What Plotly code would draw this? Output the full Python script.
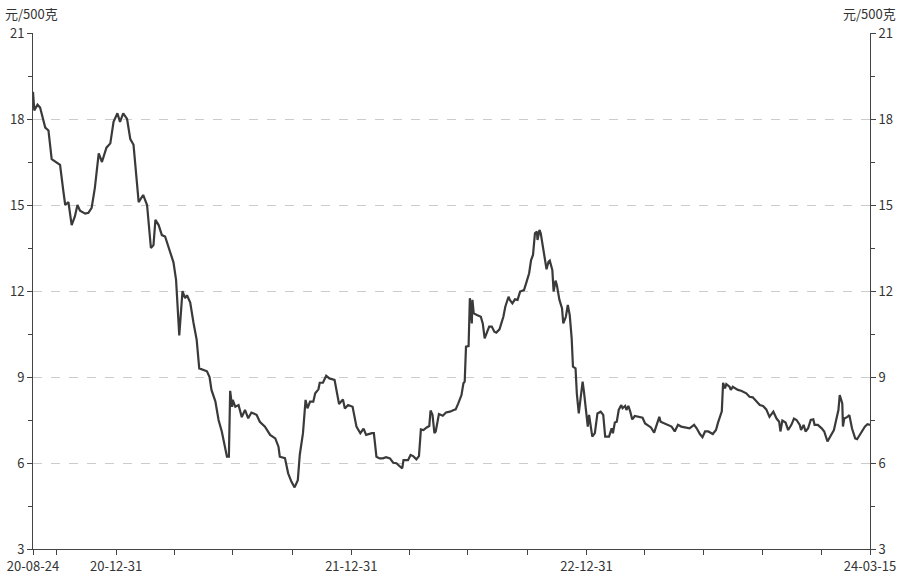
import plotly.graph_objects as go

dates = [
"2020-08-24","2020-08-26","2020-08-31","2020-09-04","2020-09-12","2020-09-17","2020-09-22","2020-09-29",
"2020-10-05","2020-10-10","2020-10-13","2020-10-18","2020-10-23","2020-10-28","2020-11-01","2020-11-05",
"2020-11-13","2020-11-18","2020-11-23","2020-11-28","2020-12-04","2020-12-09","2020-12-16","2020-12-22",
"2020-12-27","2021-01-02","2021-01-06","2021-01-11","2021-01-17","2021-01-22","2021-01-27","2021-02-04",
"2021-02-11","2021-02-17","2021-02-23","2021-02-27","2021-03-02","2021-03-07","2021-03-12","2021-03-17",
"2021-03-30","2021-04-03","2021-04-08","2021-04-13","2021-04-17","2021-04-20","2021-04-25","2021-04-30",
"2021-05-05","2021-05-09","2021-05-21","2021-05-25","2021-05-28","2021-06-03","2021-06-08","2021-06-13",
"2021-06-18","2021-06-21","2021-06-24","2021-06-26","2021-06-29","2021-06-30","2021-07-04","2021-07-09",
"2021-07-14","2021-07-19","2021-07-24","2021-07-29","2021-08-06","2021-08-11","2021-08-19","2021-08-27",
"2021-09-04","2021-09-09","2021-09-11","2021-09-19","2021-09-24","2021-09-29","2021-10-04","2021-10-09",
"2021-10-12","2021-10-17","2021-10-21","2021-10-24","2021-10-28","2021-11-02","2021-11-05","2021-11-10",
"2021-11-12","2021-11-17","2021-11-22","2021-11-27","2021-12-05","2021-12-09","2021-12-12","2021-12-18",
"2021-12-21","2021-12-26","2022-01-02","2022-01-08","2022-01-14","2022-01-19","2022-01-23","2022-02-01",
"2022-02-04","2022-02-08","2022-02-13","2022-02-18","2022-02-23","2022-03-01","2022-03-06","2022-03-11",
"2022-03-16","2022-03-20","2022-03-22","2022-03-29","2022-04-02","2022-04-06","2022-04-11","2022-04-15",
"2022-04-18","2022-04-22","2022-04-27","2022-05-01","2022-05-03","2022-05-06","2022-05-09","2022-05-11",
"2022-05-16","2022-05-22","2022-05-27","2022-06-02","2022-06-08","2022-06-11","2022-06-15","2022-06-20",
"2022-06-23","2022-06-25","2022-06-27","2022-07-01","2022-07-03","2022-07-06","2022-07-07","2022-07-09",
"2022-07-14","2022-07-20","2022-07-23","2022-07-26","2022-07-30","2022-08-02","2022-08-06","2022-08-10",
"2022-08-13","2022-08-18","2022-08-20","2022-08-24","2022-08-27","2022-09-01","2022-09-03","2022-09-07",
"2022-09-11","2022-09-15","2022-09-19","2022-09-25","2022-09-29","2022-10-03","2022-10-06","2022-10-09",
"2022-10-12","2022-10-15","2022-10-16","2022-10-19","2022-10-21","2022-10-25","2022-10-27","2022-10-30",
"2022-11-02","2022-11-04","2022-11-08","2022-11-10","2022-11-13","2022-11-15","2022-11-19","2022-11-23",
"2022-11-25","2022-11-29","2022-12-02","2022-12-05","2022-12-08","2022-12-10","2022-12-14","2022-12-16",
"2022-12-19","2022-12-22","2022-12-25","2022-12-27","2022-12-30","2023-01-02","2023-01-04","2023-01-07",
"2023-01-09","2023-01-13","2023-01-17","2023-01-22","2023-01-26","2023-01-29","2023-02-04","2023-02-08",
"2023-02-10","2023-02-13","2023-02-16","2023-02-19","2023-02-23","2023-02-25","2023-03-01","2023-03-03",
"2023-03-06","2023-03-09","2023-03-12","2023-03-16","2023-03-21","2023-03-28","2023-04-01","2023-04-05",
"2023-04-10","2023-04-15","2023-04-19","2023-04-23","2023-04-25","2023-05-02","2023-05-07","2023-05-12",
"2023-05-17","2023-05-22","2023-05-27","2023-06-03","2023-06-09","2023-06-16","2023-06-20","2023-06-25",
"2023-06-29","2023-07-03","2023-07-08","2023-07-15","2023-07-20","2023-07-23","2023-07-26","2023-07-29",
"2023-07-31","2023-08-03","2023-08-05","2023-08-10","2023-08-12","2023-08-15","2023-08-23","2023-08-28",
"2023-09-05","2023-09-10","2023-09-15","2023-09-21","2023-09-26","2023-10-01","2023-10-06","2023-10-11",
"2023-10-17","2023-10-22","2023-10-26","2023-10-28","2023-10-31","2023-11-05","2023-11-09","2023-11-14",
"2023-11-18","2023-11-22","2023-11-27","2023-11-29","2023-12-03","2023-12-06","2023-12-10","2023-12-14",
"2023-12-18","2023-12-20","2023-12-25","2023-12-31","2024-01-04","2024-01-09","2024-01-14","2024-01-19",
"2024-01-23","2024-01-26","2024-01-28","2024-02-01","2024-02-02","2024-02-04","2024-02-09","2024-02-12",
"2024-02-16","2024-02-21","2024-02-24","2024-02-28","2024-03-03","2024-03-07","2024-03-11","2024-03-15",
]

prices = [
18.95,18.3,18.5,18.4,17.7,17.6,16.6,16.5,
16.4,15.5,15.0,15.1,14.3,14.6,15.0,14.8,
14.7,14.73,14.9,15.6,16.8,16.5,17.0,17.15,
17.9,18.2,17.9,18.2,18.0,17.3,17.1,15.1,
15.35,15.0,13.5,13.6,14.48,14.3,13.95,13.9,
13.0,12.4,10.45,12.0,11.75,11.85,11.6,10.9,
10.3,9.3,9.2,9.0,8.55,8.15,7.5,7.1,
6.57,6.22,6.22,8.52,7.96,8.2,7.96,8.02,
7.6,7.85,7.56,7.76,7.68,7.44,7.27,6.98,
6.86,6.57,6.22,6.17,5.64,5.35,5.15,5.4,
6.28,7.04,8.2,7.91,8.14,8.14,8.43,8.57,
8.8,8.8,9.04,8.95,8.9,8.43,8.06,8.22,
7.9,8.02,7.96,7.27,7.04,7.2,6.98,7.04,
7.04,6.22,6.16,6.16,6.2,6.16,6.01,5.99,
5.87,5.81,6.1,6.1,6.28,6.24,6.13,6.24,
7.17,7.15,7.24,7.29,7.83,7.68,7.04,7.1,
7.71,7.65,7.76,7.79,7.85,7.87,8.08,8.37,
8.78,8.84,10.06,10.08,11.75,10.87,11.69,11.22,
11.16,11.1,10.87,10.35,10.58,10.76,10.76,10.58,
10.55,10.66,10.81,11.1,11.45,11.8,11.69,11.57,
11.71,11.69,11.98,12.03,12.32,12.62,13.08,13.26,
14.01,14.07,13.78,14.13,14.01,13.49,13.2,12.76,
13.02,13.06,12.73,11.98,12.36,12.21,11.69,11.4,
10.87,11.1,11.51,11.16,10.35,9.36,9.3,8.43,
7.73,8.2,8.84,8.5,7.9,7.27,7.68,7.27,
6.92,7.04,7.73,7.79,7.68,6.92,6.92,7.21,
7.04,7.41,7.44,7.85,8.02,7.91,7.99,7.85,
7.99,7.79,7.52,7.64,7.61,7.58,7.38,7.33,
7.24,7.06,7.33,7.61,7.44,7.38,7.33,7.27,
7.1,7.33,7.27,7.24,7.21,7.33,7.21,7.01,
6.9,7.1,7.1,7.01,7.15,7.4,7.65,7.8,
8.8,8.6,8.75,8.66,8.55,8.66,8.55,8.52,
8.43,8.31,8.29,8.14,8.02,7.99,7.87,7.61,
7.79,7.55,7.44,7.1,7.48,7.41,7.15,7.33,
7.55,7.5,7.33,7.15,7.33,7.1,7.21,7.5,
7.52,7.33,7.33,7.21,7.1,6.75,6.98,7.15,
7.55,7.85,8.37,8.08,7.27,7.55,7.61,7.67,
7.21,6.86,6.83,6.98,7.15,7.27,7.35,7.33,
]

x_tick_dates = ["2020-08-24","2020-09-30","2020-12-31","2021-03-31","2021-06-30","2021-09-30",
                "2021-12-31","2022-03-31","2022-06-30","2022-09-30","2022-12-31","2023-03-31",
                "2023-06-30","2023-09-30","2023-12-31","2024-03-15"]
x_tick_labels = ["20-08-24","","20-12-31","","","","21-12-31","","","","22-12-31","","","","","24-03-15"]
y_ticks = [3, 6, 9, 12, 15, 18, 21]
y_minor = [4.5, 7.5, 10.5, 13.5, 16.5, 19.5]
unit = "元/500克"

FONT = "Noto Sans CJK SC, Noto Sans, sans-serif"
AXC = "#444444"
FS = 13

fig = go.Figure()
fig.add_trace(go.Scatter(x=dates, y=prices, mode="lines",
                         line=dict(color="#3a3a3a", width=2.2), showlegend=False))
fig.add_trace(go.Scatter(x=dates, y=prices, mode="lines", yaxis="y2",
                         line=dict(color="rgba(0,0,0,0)", width=0), showlegend=False,
                         hoverinfo="skip"))

yax = dict(range=[3, 21], tickmode="array", tickvals=y_ticks, ticks="outside", ticklen=5,
           tickcolor=AXC, showline=True, linecolor=AXC, linewidth=1, zeroline=False,
           tickfont=dict(size=FS, color="#333333", family=FONT),
           minor=dict(tickmode="array", tickvals=y_minor, ticks="outside", ticklen=4,
                      tickcolor=AXC, showgrid=False),
           automargin=False)

fig.update_layout(
    width=900, height=575,
    margin=dict(l=33, r=30, t=33, b=26),
    paper_bgcolor="white", plot_bgcolor="white",
    font=dict(family=FONT, color="#333333", size=FS),
    xaxis=dict(type="date", range=["2020-08-24", "2024-03-15"], tickmode="array",
               tickvals=x_tick_dates, ticktext=x_tick_labels, ticks="outside", ticklen=5,
               tickcolor=AXC, showline=True, linecolor=AXC, linewidth=1, showgrid=False,
               zeroline=False, tickfont=dict(size=FS, color="#333333", family=FONT),
               automargin=False),
    yaxis=dict(**yax, side="left", showgrid=True, gridcolor="#cccccc", griddash="dash",
               gridwidth=1),
    yaxis2=dict(**yax, side="right", overlaying="y", showgrid=False),
    annotations=[
        dict(text=unit, xref="paper", yref="paper", x=0, y=1, xshift=-30, yshift=31,
             xanchor="left", yanchor="top", showarrow=False,
             font=dict(size=FS, color="#333333", family=FONT)),
        dict(text=unit, xref="paper", yref="paper", x=1, y=1, xshift=28, yshift=31,
             xanchor="right", yanchor="top", showarrow=False,
             font=dict(size=FS, color="#333333", family=FONT)),
    ],
)

fig.write_html("out.html", config={"displayModeBar": False},
               post_script="document.body.style.margin='0';document.body.style.overflow='hidden';")
